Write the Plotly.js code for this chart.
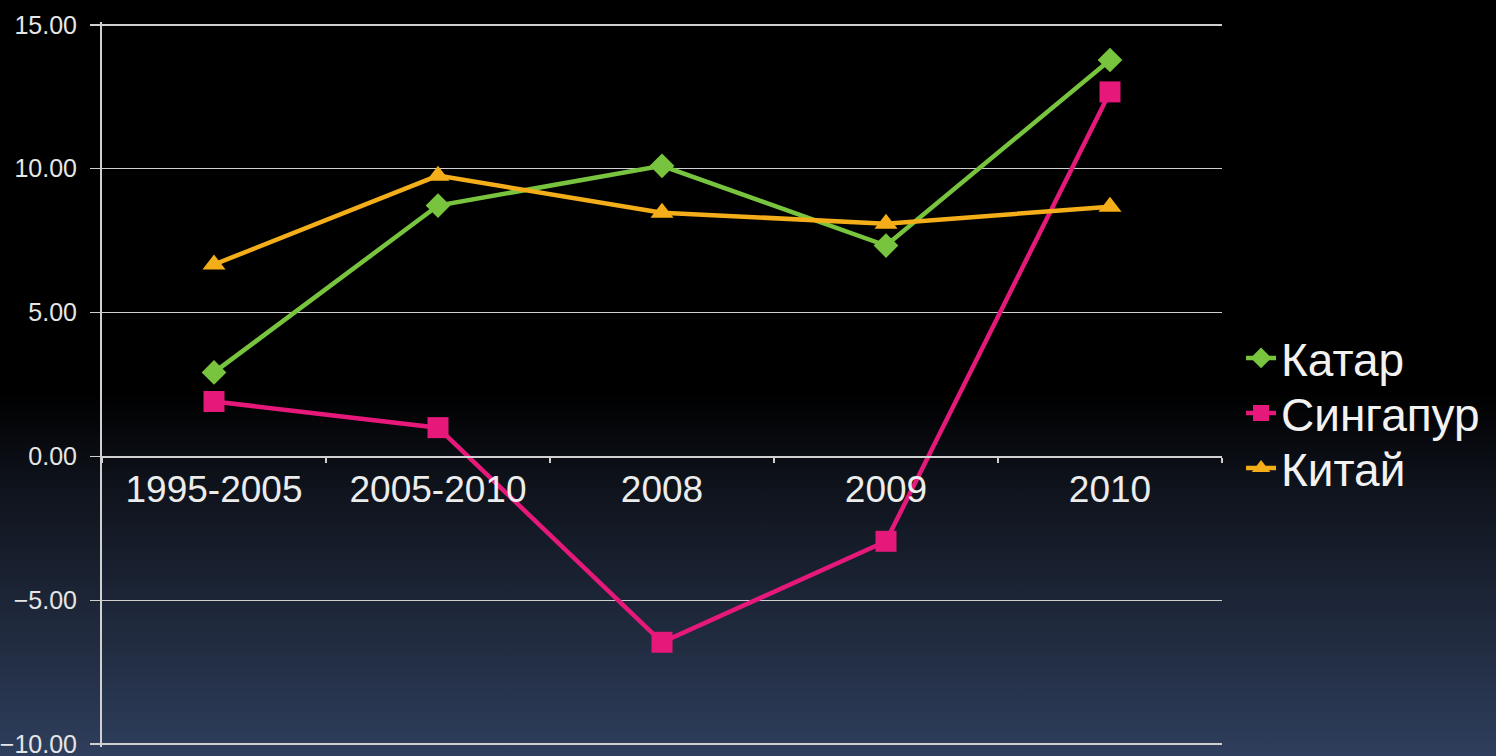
<!DOCTYPE html>
<html>
<head>
<meta charset="utf-8">
<script src="https://cdn.plot.ly/plotly-3.0.1.min.js"></script>
<style>
html, body { margin:0; padding:0; }
#chart { width:1496px; height:756px; background: linear-gradient(to bottom, #000000 0%, #000000 52%, #0d1119 63%, #1d2638 80%, #2e3e5c 100%); }
</style>
</head>
<body>
<div id="chart"></div>
<script>
const categories = ["1995-2005", "2005-2010", "2008", "2009", "2010"];
const qatar = [2.92, 8.72, 10.1, 7.33, 13.78];
const singapore = [1.91, 1.0, -6.46, -2.95, 12.67];
const china = [6.67, 9.76, 8.47, 8.09, 8.68];
const seriesNames = ["Катар", "Сингапур", "Китай"];
const yTicks = [-10, -5, 0, 5, 10, 15];

const font = "Liberation Sans, Arial, sans-serif";
const traces = [
  {x: categories, y: qatar, name: seriesNames[0], mode: "lines+markers", legend: "legend",
   line: {color: "#78c43e", width: 4.5}, marker: {symbol: "diamond", size: 19, color: "#78c43e"}},
  {x: categories, y: singapore, name: seriesNames[1], mode: "lines+markers", legend: "legend2",
   line: {color: "#e6197b", width: 4.5}, marker: {symbol: "square", size: 21, color: "#e6197b"}},
  {x: categories, y: china, name: seriesNames[2], mode: "lines+markers", legend: "legend3",
   line: {color: "#f4ae1a", width: 4.5}, marker: {symbol: "triangle-up", size: 20, color: "#f4ae1a"}}
];

const plotTop = 22, plotBottom = 747;
function paperY(py) { return (plotBottom - py) / (plotBottom - plotTop); }

function leg(y) {
  return {x: 1.017, xanchor: "left", y: y, yanchor: "middle",
    font: {size: 46, color: "#f2f2f2", family: font}, bgcolor: "rgba(0,0,0,0)",
    itemwidth: 30};
}

const layout = {
  width: 1496, height: 756,
  margin: {l: 102, r: 274, t: plotTop, b: 756 - plotBottom},
  paper_bgcolor: "rgba(0,0,0,0)",
  plot_bgcolor: "rgba(0,0,0,0)",
  font: {family: font, color: "#e8e8e8"},
  showlegend: true,
  legend: leg(paperY(358)),
  legend2: leg(paperY(413)),
  legend3: leg(paperY(468)),
  xaxis: {
    type: "category", range: [-0.5, 4.5],
    anchor: "free", position: paperY(457),
    showline: true, linecolor: "#d0d0d0", linewidth: 2,
    ticks: "outside", tickson: "boundaries", ticklen: 5, tickcolor: "#d0d0d0", tickwidth: 1.5,
    showgrid: false, zeroline: false,
    tickfont: {size: 37, color: "#ececec", family: font}
  },
  yaxis: {
    range: [-10.1, 15.1], tickvals: yTicks, tickformat: ".2f",
    showline: true, linecolor: "#d0d0d0", linewidth: 2,
    ticks: "outside", ticklen: 10, tickcolor: "#d0d0d0", tickwidth: 1.5,
    ticklabelstandoff: 8, ticklabeloverflow: "allow",
    showgrid: true, gridcolor: "#cfcfcf", gridwidth: 1.5,
    zeroline: false,
    tickfont: {size: 25, color: "#e6e6e6", family: font}
  }
};

Plotly.newPlot("chart", traces, layout, {displayModeBar: false, staticPlot: true});
</script>
</body>
</html>
